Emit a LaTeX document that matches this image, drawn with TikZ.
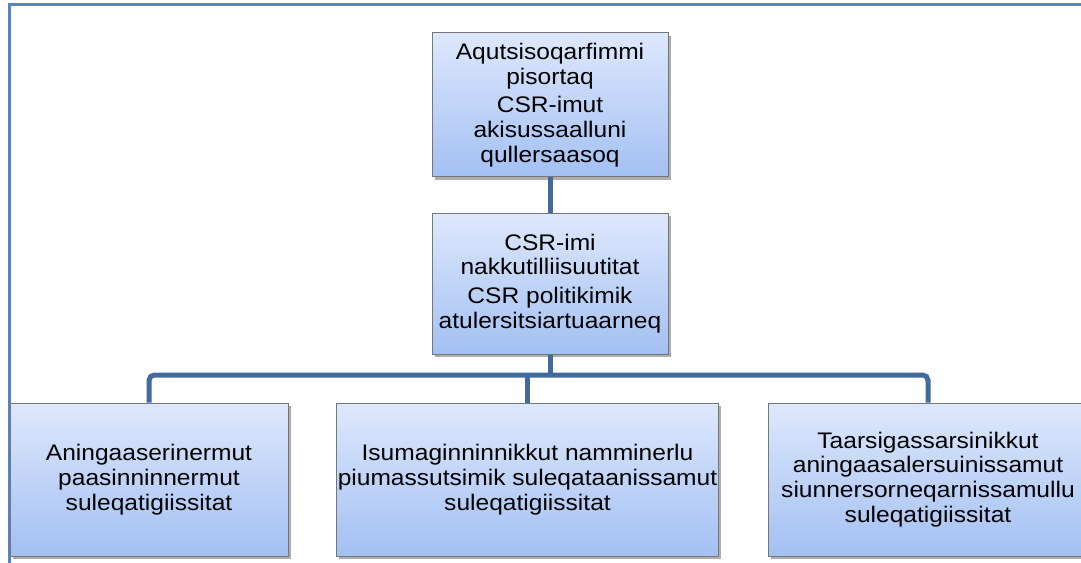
\documentclass[tikz,border=0pt]{standalone}
\usepackage{fontspec}
\setmainfont{Liberation Sans}[FakeStretch=1.09]
\usepackage{tikz}
\usetikzlibrary{calc,shapes,backgrounds,shadows,positioning}
\definecolor{frameblue}{RGB}{88,130,198}
\definecolor{linkblue}{RGB}{66,106,156}
\definecolor{boxtop}{RGB}{221,232,252}
\definecolor{boxbot}{RGB}{163,192,243}
\definecolor{boxline}{RGB}{118,118,118}

\begin{document}
\begin{tikzpicture}[x=0.75pt,y=-0.75pt]

           \tikzstyle{every node}=[font=\fontsize{16.9pt}{18.6pt}\selectfont]
           \tikzstyle{unit}=[draw=boxline,line width=0.75pt,top color=boxtop,bottom color=boxbot,
                             align=center,inner xsep=1pt,inner ysep=2pt,
                             drop shadow={shadow xshift=2pt,shadow yshift=-2pt,opacity=0.45,fill=black!70}]
           \tikzstyle{link}=[draw=linkblue,line width=3.75pt]

    \useasboundingbox (0,0) rectangle (1081,563);
    \clip (0,0) rectangle (1081,563);
    \draw[frameblue,line width=2.25pt] (9,5) rectangle (1100,600);

    \node[unit, minimum width=177pt, minimum height=108pt] (Top) at (550,105)
        {Aqutsisoqarfimmi\\pisortaq\\[3pt]CSR-imut\\akisussaalluni\\qullersaasoq};
    \node[unit, minimum width=177pt, minimum height=105.75pt] (Mid) at (550,283.5)
        {CSR-imi\\nakkutilliisuutitat\\[3pt]CSR politikimik\\atulersitsiartuaarneq};

    \node[unit, minimum width=208.5pt, minimum height=114.75pt] (B1) at (149,479.5)
        {Aningaaserinermut\\paasinninnermut\\suleqatigiissitat};
    \node[unit, minimum width=285.75pt, minimum height=114.75pt] (B2) at (527.5,479.5)
        {Isumaginninnikkut namminerlu\\piumassutsimik suleqataanissamut\\suleqatigiissitat};
    \node[unit, minimum width=240pt, minimum height=114.75pt] (B3) at (928,479.5)
        {Taarsigassarsinikkut\\aningaasalersuinissamut\\siunnersorneqarnissamullu\\suleqatigiissitat};

    \coordinate (Bus) at (550,375);

    \path[link] (Top) -- (Mid);
    \path[link] (Mid) -- (Bus);
    \path[link,rounded corners=4pt] (B1.north) |- (Bus) -| (B3.north);
    \path[link] (B2.north) -- (B2.north |- Bus);

\end{tikzpicture}
\end{document}
